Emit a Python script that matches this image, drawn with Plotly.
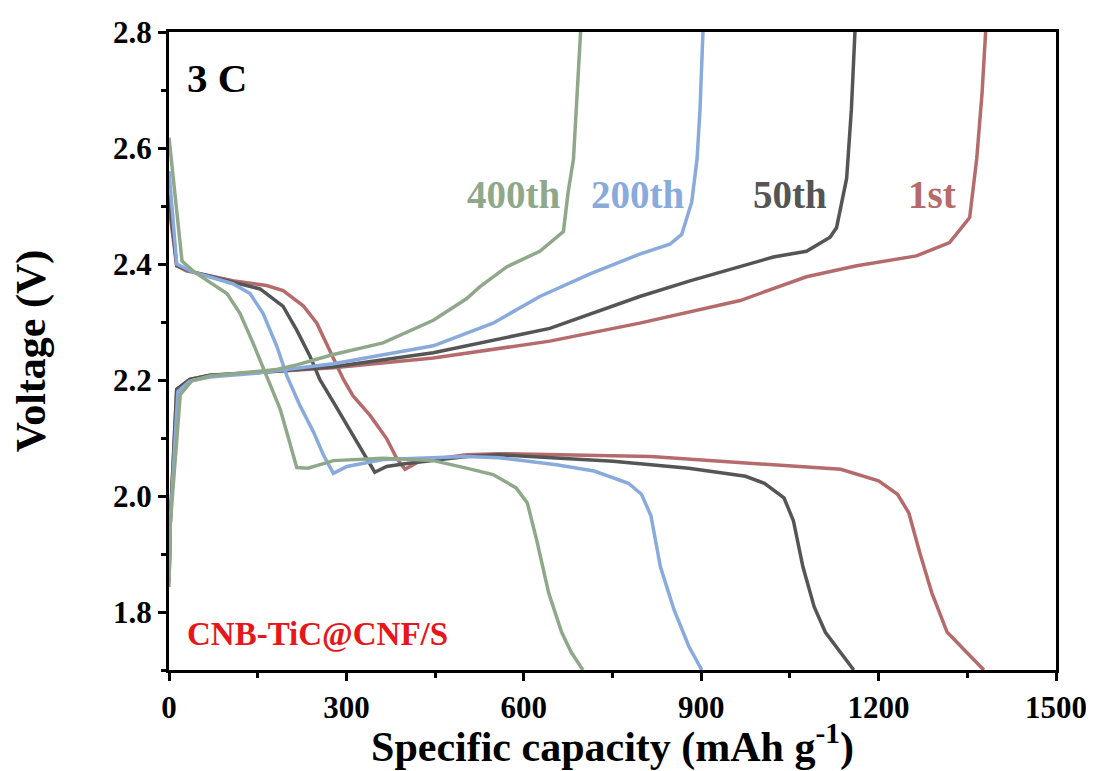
import plotly.graph_objects as go

# ---------------- data (capacity mAh/g, voltage V) ----------------
d1_x = [0, 13, 30, 41, 108, 165, 193, 227, 250, 272, 295, 311, 340, 368, 385, 399, 424, 503, 558, 815, 1007, 1136, 1200, 1232, 1251, 1270, 1290, 1316, 1378]
d1_v = [2.50, 2.397, 2.388, 2.386, 2.371, 2.363, 2.354, 2.328, 2.298, 2.252, 2.201, 2.173, 2.139, 2.099, 2.065, 2.046, 2.060, 2.071, 2.073, 2.068, 2.054, 2.046, 2.026, 2.003, 1.971, 1.901, 1.833, 1.765, 1.70]
c1_x = [0, 2, 13, 35, 69, 150, 278, 447, 644, 796, 966, 1078, 1163, 1264, 1320, 1354, 1366, 1375, 1381]
c1_v = [1.85, 1.95, 2.184, 2.201, 2.208, 2.213, 2.221, 2.238, 2.267, 2.298, 2.337, 2.378, 2.397, 2.414, 2.437, 2.480, 2.582, 2.695, 2.80]

d50_x = [0, 13, 41, 108, 154, 193, 216, 238, 255, 278, 311, 334, 348, 368, 402, 503, 558, 751, 879, 975, 1007, 1040, 1056, 1072, 1091, 1110, 1158]
d50_v = [2.52, 2.397, 2.386, 2.369, 2.357, 2.327, 2.286, 2.242, 2.201, 2.162, 2.105, 2.065, 2.041, 2.051, 2.056, 2.068, 2.071, 2.060, 2.048, 2.034, 2.022, 1.997, 1.957, 1.878, 1.809, 1.765, 1.70]
c50_x = [0, 2, 13, 35, 69, 150, 278, 447, 644, 796, 881, 966, 1022, 1078, 1118, 1129, 1146, 1154, 1160]
c50_v = [1.85, 1.95, 2.184, 2.201, 2.208, 2.213, 2.223, 2.247, 2.289, 2.344, 2.371, 2.395, 2.412, 2.422, 2.446, 2.463, 2.548, 2.667, 2.80]

d200_x = [0, 13, 41, 108, 137, 159, 182, 199, 221, 244, 261, 278, 301, 362, 503, 558, 655, 719, 777, 799, 815, 831, 854, 879, 901]
d200_v = [2.56, 2.40, 2.386, 2.366, 2.349, 2.315, 2.259, 2.208, 2.157, 2.111, 2.071, 2.039, 2.051, 2.063, 2.068, 2.066, 2.054, 2.043, 2.022, 2.003, 1.966, 1.878, 1.804, 1.741, 1.70]
c200_x = [0, 2, 15, 35, 69, 150, 278, 447, 548, 627, 712, 796, 847, 867, 884, 893, 898, 903]
c200_v = [1.85, 1.95, 2.18, 2.198, 2.205, 2.212, 2.228, 2.259, 2.298, 2.344, 2.383, 2.417, 2.434, 2.451, 2.507, 2.581, 2.667, 2.80]

d400_x = [0, 22, 41, 52, 98, 120, 142, 165, 188, 205, 216, 235, 278, 362, 447, 503, 548, 587, 606, 622, 642, 664, 680, 700]
d400_v = [2.618, 2.405, 2.388, 2.380, 2.349, 2.315, 2.264, 2.208, 2.150, 2.089, 2.049, 2.048, 2.061, 2.065, 2.061, 2.048, 2.037, 2.014, 1.988, 1.923, 1.833, 1.765, 1.731, 1.70]
c400_x = [0, 2, 19, 39, 69, 182, 216, 278, 362, 447, 503, 526, 571, 627, 667, 675, 684, 689, 696]
c400_v = [1.843, 1.95, 2.175, 2.199, 2.207, 2.218, 2.226, 2.244, 2.264, 2.303, 2.340, 2.361, 2.395, 2.422, 2.456, 2.524, 2.581, 2.667, 2.80]

cycle_labels = ["1st", "50th", "200th", "400th"]
label_x = [1290, 1050, 793, 582]
label_y = [2.519, 2.519, 2.519, 2.519]

x_ticks = [0, 300, 600, 900, 1200, 1500]
y_ticks = [1.8, 2.0, 2.2, 2.4, 2.6, 2.8]
x_minor = [150, 450, 750, 1050, 1350]
y_minor = [1.7, 1.9, 2.1, 2.3, 2.5, 2.7]

colors = ["#B56B6B", "#555555", "#88AADC", "#8FA88A"]
FONT = "Liberation Serif, Times New Roman, serif"

series = [
    (d1_x, d1_v, c1_x, c1_v),
    (d50_x, d50_v, c50_x, c50_v),
    (d200_x, d200_v, c200_x, c200_v),
    (d400_x, d400_v, c400_x, c400_v),
]

fig = go.Figure()
for (dx, dv, cx, cv), col, name in zip(series, colors, cycle_labels):
    fig.add_trace(go.Scatter(x=dx, y=dv, mode="lines", line=dict(color=col, width=3.5),
                             name=name, showlegend=False))
    fig.add_trace(go.Scatter(x=cx, y=cv, mode="lines", line=dict(color=col, width=3.5),
                             name=name, showlegend=False))

for t, xx, yy, col in zip(cycle_labels, label_x, label_y, colors):
    fig.add_annotation(x=xx, y=yy, text=t, showarrow=False, xanchor="center", yanchor="middle",
                       font=dict(family=FONT, size=39, color=col, weight="bold"))

fig.add_annotation(x=27, y=2.72, text="3 C", showarrow=False, xanchor="left", yanchor="middle",
                   font=dict(family=FONT, size=41, color="black", weight="bold"))
fig.add_annotation(x=27, y=1.762, text="CNB-TiC@CNF/S", showarrow=False, xanchor="left", yanchor="middle",
                   font=dict(family=FONT, size=33, color="#E8161A", weight="bold"))

axis_common = dict(
    showgrid=False, zeroline=False, showline=True, linecolor="black", linewidth=3,
    mirror=True, ticks="outside", ticklen=8, tickwidth=2.5, tickcolor="black",
    automargin=False, ticklabeloverflow="allow",
    tickfont=dict(family=FONT, size=31, color="black", weight="bold"),
)

fig.update_xaxes(range=[0, 1500], tickmode="array", tickvals=x_ticks,
                 ticktext=[str(v) for v in x_ticks],
                 minor=dict(ticks="outside", ticklen=5, tickwidth=2.5, tickcolor="black", tickvals=x_minor),
                 title=dict(text="Specific capacity (mAh g<sup>-1</sup>)", standoff=10,
                            font=dict(family=FONT, size=42, color="black", weight="bold")),
                 **axis_common)
fig.update_yaxes(range=[1.7, 2.8], tickmode="array", tickvals=y_ticks,
                 ticktext=[f"{v:.1f}" for v in y_ticks],
                 minor=dict(ticks="outside", ticklen=5, tickwidth=2.5, tickcolor="black", tickvals=y_minor),
                 title=dict(text="Voltage (V)", standoff=58,
                            font=dict(family=FONT, size=42, color="black", weight="bold")),
                 **axis_common)

# page body adds an 8px offset; margins chosen so the frame and every tick label stay visible
fig.update_layout(width=1086, height=763, plot_bgcolor="white", paper_bgcolor="white",
                  margin=dict(l=161, r=38, t=24, b=101), showlegend=False)

fig.write_html("out.html")
